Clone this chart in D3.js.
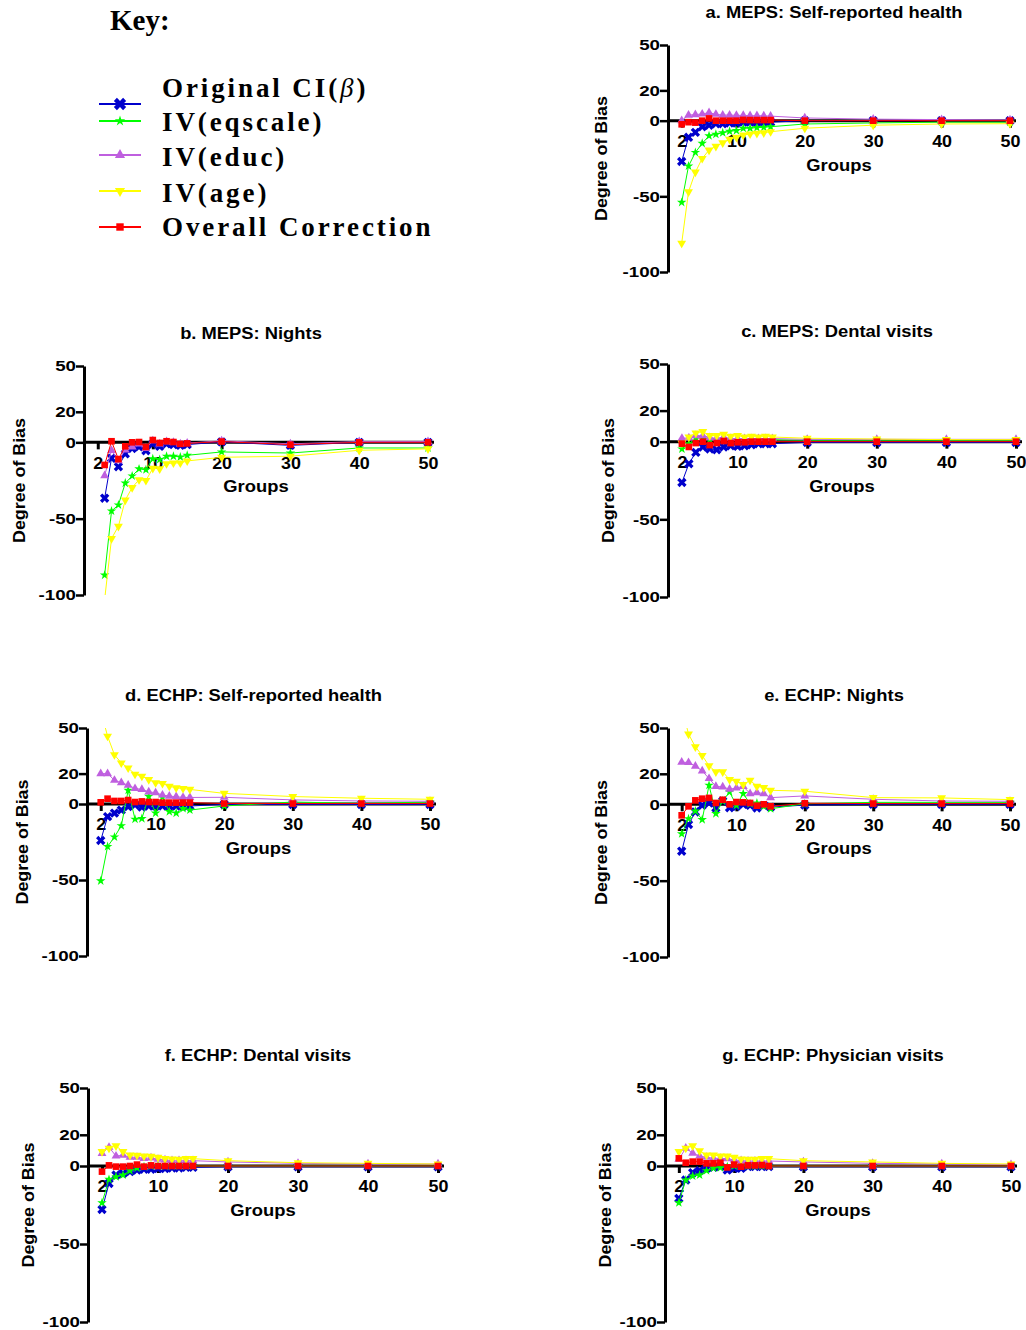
<!DOCTYPE html>
<html>
<head>
<meta charset="utf-8">
<script src="https://cdn.jsdelivr.net/npm/d3@7"></script>
<style>
  body { margin: 0; background: #fff; }
  svg text { font-family: "Liberation Sans", Arial, sans-serif; font-weight: bold; fill: #000; }
  .key text { font-family: "Liberation Serif", "Times New Roman", serif; }
</style>
</head>
<body>
<svg id="chart" width="1026" height="1330"></svg>
<script>
// groups (x values)
var groups = [2,3,4,5,6,7,8,9,10,11,12,13,14,15,20,30,40,50]
var groupsB = [3,4,5,6,7,8,9,10,11,12,13,14,15,20,30,40,50]

var seriesNames = ['Original CI(β)', 'IV(eqscale)', 'IV(educ)', 'IV(age)', 'Overall Correction']
var seriesColors = ['#0000cc', '#00ff00', '#bf5fdf', '#ffff00', '#ff0000']

var yTicks = [-100, -50, 0, 20, 50]
var xTicks = [2, 10, 20, 30, 40, 50]

// a. MEPS: Self-reported health
var a_orig    = [-27,-11,-7.7,-4,-3,-2,-2,-1.5,-1.5,-1,-1,-1,-1,-1,0,0,0,0]
var a_eqscale = [-54,-30,-21,-15,-10,-9,-8,-7,-6.6,-5,-5,-4.6,-4.4,-4,-2.2,-1.5,-1,-1]
var a_educ    = [0,3.7,4,4.4,5.3,4.2,3.7,3.7,3.5,3.5,3.3,3.3,3.2,3,1.8,1,0.7,0.5]
var a_age     = [-81,-47,-34,-25,-19.4,-17,-14.6,-12.4,-11,-9.5,-8.8,-8.4,-8,-7.3,-5,-3,-2.2,-2]
var a_overall = [-2.4,-1,-1.3,0,1.5,0,0,0,0,0.5,0.4,0.4,0.4,0.4,0,0,0,0]

// b. MEPS: Nights (starts at 3 groups)
var b_orig    = [-36.6,-10.4,-16,-7.5,-4,-3,-5.5,-1,-2.6,-1,-1.5,-2,-1.5,0.3,-2,0,0]
var b_eqscale = [-87,-45,-41,-26.7,-22,-17.4,-18,-10.8,-11.3,-9.1,-9.1,-9.6,-8.5,-6.3,-7,-3.7,-3.7]
var b_educ    = [-21.8,-5.3,-12,-5,-3,-1,-4,1,-1,0.5,0,-1,-0.5,1,-1,0.5,0.5]
var b_age     = [-103,-63,-55,-37.8,-29.6,-24.5,-25,-17,-17.4,-14,-13.5,-13.5,-12.2,-9.8,-9.1,-5.2,-4.3]
var b_overall = [-14.8,0.7,-11,-2.6,0,0.2,-3,1.5,-0.4,0.7,0.2,-1,-0.7,0.5,-1.5,0,0]

// c. MEPS: Dental visits
var c_orig    = [-26.3,-14.2,-6.9,-3.4,-4.7,-5.2,-3.4,-2.6,-3,-2.6,-2,-1.3,-1.3,-1.3,-0.5,-0.5,-0.5,-0.5]
var c_eqscale = [-4.7,-1.3,2.2,2.6,1.3,0.9,1.3,1.3,1.3,1.3,1.3,1.3,1.3,1.3,1,1,1,1]
var c_educ    = [2.2,2.4,3.9,3.9,2.6,2.2,3,2,2,2,2,2,2,2,1.5,1.5,1.5,1.5]
var c_age     = [-1,3,5.6,6.5,3.9,3.9,4.7,3.4,3.9,3,3.4,3,3.4,3,2.2,1.7,1.3,1.3]
var c_overall = [-1.3,-3.4,-0.9,0,-2.2,-0.9,0.4,-0.9,-0.4,-0.4,0,0,0,0,0,0,0,0]

// d. ECHP: Self-reported health
var d_orig    = [-24,-8.3,-6,-4,-1.7,-0.6,-2,-1.3,-1.3,-1.3,-1.3,-1.3,-1.3,-1.3,-0.3,-0.3,-0.3,-0.3]
var d_eqscale = [-50.6,-28,-21.7,-14.3,9,-10,-9.6,5,-6,4.5,-5,-6,-3,-4,-1.3,1.3,0.4,1.3]
var d_educ    = [20,20,15.6,14,12.4,10.2,9.6,8,7.4,5.9,5.2,4.8,4.3,4.3,4.4,2.7,2,1.8]
var d_age     = [61.5,44.6,32.4,27,23.7,19.6,18.3,16,14,13.5,11.7,10.6,10.2,9.6,7,4.9,3.8,3.1]
var d_overall = [1.1,3.5,2,2,2.6,1.3,1.7,1.3,1.3,0.9,0.9,0.9,0.9,0.9,0.3,0.3,0.3,0.3]

// e. ECHP: Nights
var e_orig    = [-30.7,-13.2,-5,-0.7,0.9,-2.4,2.2,-2.2,-1.3,0,-0.7,-2.4,-0.7,-1.8,-0.5,0,0,0]
var e_eqscale = [-19.3,-9.4,-4.4,-10,12.5,-6.1,2.2,8.1,-0.7,7,0.4,0.9,-1.3,-2.9,0.4,1.3,1.3,1.3]
var e_educ    = [27.6,27.4,25,21.9,16.9,11.8,11.4,9.9,10.7,11.8,7,7.7,7,4.4,5.5,3.3,2.2,2]
var e_age     = [64,46,37.7,32,25.2,21.3,21.3,16.2,15.1,12.9,15.8,11.8,11,9.2,8.6,4.4,4.2,3.1]
var e_overall = [-7.2,-1.3,2.6,3.7,4.2,0.9,3,0,1.5,1.3,0.9,-0.9,0,-1.3,0.7,0.5,0.5,0.5]

// f. ECHP: Dental visits
var f_orig    = [-27.9,-11.2,-5.8,-4.7,-3.6,-2.6,-2.1,-2.1,-1.7,-1.7,-1.3,-1.3,-0.9,-0.9,-0.5,-0.5,-0.5,-0.5]
var f_eqscale = [-23.6,-8.6,-6.9,-5.8,-3,-1.3,-0.4,0,0,0,0,0,0,0,0,0,0,0]
var f_educ    = [8,12,6.4,6.9,5.6,5.6,4.9,5.2,4.3,3.9,3.4,3.4,3.4,3.4,2.6,1.7,1.3,1.3]
var f_age     = [9.2,11.4,12.9,9.2,7,6.9,6.4,6.2,5.6,4.7,4.5,4.3,4.7,4.7,3.4,2.1,1.7,1.3]
var f_overall = [-3.6,0.4,-0.4,-0.4,0,0.9,-0.4,0.4,0,0,0,0,0,0,0,0,0,0]

// g. ECHP: Physician visits
var g_orig    = [-20.8,-9,-4.3,-3,-1.5,-0.9,-0.4,-2.6,-1.5,-1.5,-0.4,-0.4,-0.4,-0.4,-0.5,-0.5,-0.5,-0.5]
var g_eqscale = [-23.6,-9,-6.4,-5.8,-3,-1.3,-1.1,-0.4,0,0,0,0,0,0,0,0,0,0]
var g_educ    = [4.3,11.4,8.2,6.4,5.6,4.9,4.9,4.7,3.9,3.4,3.2,3.2,3.2,3.2,2.6,1.7,1.3,0.9]
var g_age     = [9.2,11.4,12.9,9.7,7,7,6.4,6.4,5.6,4.5,4.3,4.3,4.7,4.7,3.4,2.6,1.7,1.3]
var g_overall = [4.9,2.1,2.8,2.8,1.7,1.7,2.1,-0.9,0.9,-0.4,0.4,0.4,0.6,0,0,0,0,0]

// panel layout (pixel boxes)
var panels = [
  {title: 'a. MEPS: Self-reported health', xs: groups,  ys: [a_orig, a_eqscale, a_educ, a_age, a_overall], x0: 668, x1: 1010, yt: 45,   yb: 272,  lab: 67},
  {title: 'b. MEPS: Nights',               xs: groupsB, ys: [b_orig, b_eqscale, b_educ, b_age, b_overall], x0: 84,  x1: 428,  yt: 366,  yb: 595,  lab: 65.5},
  {title: 'c. MEPS: Dental visits',        xs: groups,  ys: [c_orig, c_eqscale, c_educ, c_age, c_overall], x0: 668, x1: 1016, yt: 364,  yb: 597,  lab: 60},
  {title: 'd. ECHP: Self-reported health', xs: groups,  ys: [d_orig, d_eqscale, d_educ, d_age, d_overall], x0: 87,  x1: 430,  yt: 728,  yb: 956,  lab: 65.5},
  {title: 'e. ECHP: Nights',               xs: groups,  ys: [e_orig, e_eqscale, e_educ, e_age, e_overall], x0: 668, x1: 1010, yt: 728,  yb: 957,  lab: 67},
  {title: 'f. ECHP: Dental visits',        xs: groups,  ys: [f_orig, f_eqscale, f_educ, f_age, f_overall], x0: 88,  x1: 438,  yt: 1088, yb: 1322, lab: 60.5},
  {title: 'g. ECHP: Physician visits',     xs: groups,  ys: [g_orig, g_eqscale, g_educ, g_age, g_overall], x0: 665, x1: 1011, yt: 1088, yb: 1322, lab: 60.5}
]

var svg = d3.select('#chart')

// marker shapes per series
var symbols = [
  {type: d3.symbolCross, size: 55, rot: 45},
  {type: d3.symbolStar, size: 28, rot: 0},
  {type: d3.symbolTriangle, size: 34, rot: 0},
  {type: d3.symbolTriangle, size: 34, rot: 180},
  {type: d3.symbolSquare, size: 44, rot: 0}
]

panels.forEach((p, pi) => {
  var x = d3.scaleLinear().domain([0, 50]).range([p.x0, p.x1])
  var y = d3.scaleLinear().domain([-100, 50]).range([p.yb, p.yt])
  var g = svg.append('g')

  // y axis
  var ya = g.append('g')
    .attr('transform', `translate(${p.x0},0)`)
    .call(d3.axisLeft(y).tickValues(yTicks).tickFormat(d => String(d))
      .tickSize(8).tickSizeOuter(0).tickPadding(0))
  ya.select('.domain').attr('stroke-width', 3)
  ya.selectAll('.tick line').attr('stroke-width', 2.5)
  ya.selectAll('.tick text')
    .attr('font-size', 15)
    .attr('transform', 'scale(1.25,1)')
    .attr('x', -8 / 1.25)

  // x axis on zero line
  var xa = g.append('g')
    .attr('transform', `translate(0,${y(0)})`)
    .call(d3.axisBottom(x).tickValues(xTicks).tickFormat(d => String(d))
      .tickSize(7).tickSizeOuter(0).tickPadding(8))
  xa.select('.domain').attr('d', `M${p.x0},0H${p.x1 + 6}`).attr('stroke-width', 3)
  xa.selectAll('.tick line').attr('stroke-width', 3)
  xa.selectAll('.tick text')
    .attr('font-size', 16)
    .attr('transform', 'scale(1.12,1)')

  // titles
  g.append('text')
    .attr('transform', `translate(${x(25) - 5},${p.yt - 27}) scale(1.08,1)`)
    .attr('text-anchor', 'middle')
    .attr('font-size', 17)
    .text(p.title)

  g.append('text')
    .attr('transform', `translate(${x(25)},${y(0) + 50}) scale(1.15,1)`)
    .attr('text-anchor', 'middle')
    .attr('font-size', 16)
    .text('Groups')

  g.append('text')
    .attr('transform', `translate(${p.x0 - p.lab + 6},${y(-25)}) rotate(-90) scale(1.05,1)`)
    .attr('text-anchor', 'middle')
    .attr('font-size', 17)
    .text('Degree of Bias')

  // clipped data layer
  var clipId = 'clip' + pi
  g.append('clipPath').attr('id', clipId)
    .append('rect')
    .attr('x', p.x0 - 10).attr('y', p.yt)
    .attr('width', p.x1 - p.x0 + 25).attr('height', p.yb - p.yt)

  var data = g.append('g').attr('clip-path', `url(#${clipId})`)
  var line = d3.line().x(d => x(d[0])).y(d => y(d[1]))

  p.ys.forEach((vals, si) => {
    var pts = vals.map((v, i) => [p.xs[i], v])
    var sg = data.append('g')
    sg.append('path')
      .attr('d', line(pts))
      .attr('fill', 'none')
      .attr('stroke', seriesColors[si])
      .attr('stroke-width', 1)
    var sym = symbols[si]
    sg.selectAll('path.m').data(pts).join('path')
      .attr('class', 'm')
      .attr('d', d3.symbol().type(sym.type).size(sym.size))
      .attr('transform', d => `translate(${x(d[0])},${y(d[1])}) rotate(${sym.rot})`)
      .attr('fill', seriesColors[si])
  })
})

// key
var key = svg.append('g').attr('class', 'key')
key.append('text')
  .attr('x', 110).attr('y', 30)
  .attr('font-size', 29)
  .text('Key:')

var keyTextY = [97, 131, 166, 202, 236]
var keySymY = [104, 121, 155, 191, 227]
var keySizes = [95, 34, 45, 45, 55]

seriesNames.forEach((name, i) => {
  key.append('line')
    .attr('x1', 99).attr('x2', 141)
    .attr('y1', keySymY[i]).attr('y2', keySymY[i])
    .attr('stroke', seriesColors[i]).attr('stroke-width', 2)
  key.append('path')
    .attr('d', d3.symbol().type(symbols[i].type).size(keySizes[i]))
    .attr('transform', `translate(120,${keySymY[i]}) rotate(${symbols[i].rot})`)
    .attr('fill', seriesColors[i])
  var t = key.append('text')
    .attr('x', 162).attr('y', keyTextY[i])
    .attr('font-size', 27)
    .attr('letter-spacing', 2.9)
  if (i === 0) {
    t.append('tspan').text('Original CI(')
    t.append('tspan').attr('font-style', 'italic').attr('font-weight', 'normal').text('β')
    t.append('tspan').text(')')
  } else {
    t.text(name)
  }
})
</script>
</body>
</html>
